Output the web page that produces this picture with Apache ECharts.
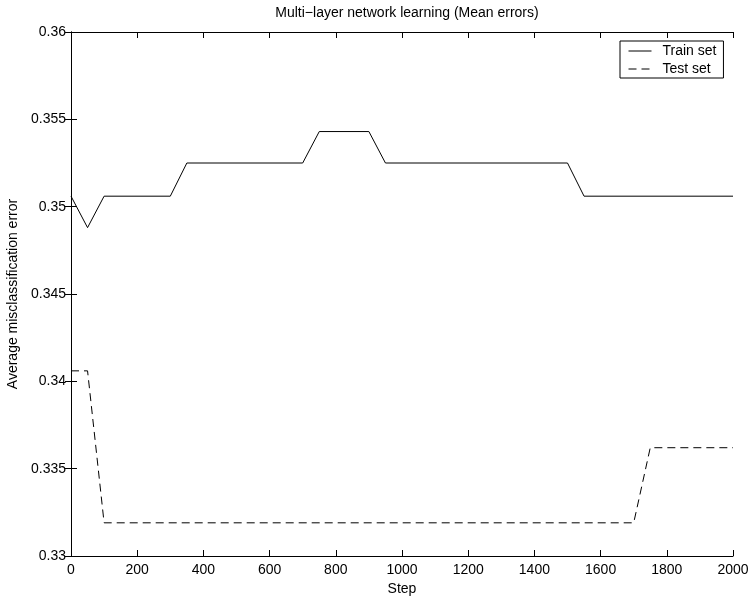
<!DOCTYPE html>
<html>
<head>
<meta charset="utf-8">
<script src="https://cdn.jsdelivr.net/npm/echarts@6/dist/echarts.min.js"></script>
<style>
  html, body { margin: 0; padding: 0; background: #fff; }
  #chart { width: 752px; height: 598px; }
</style>
</head>
<body>
<div id="chart"></div>
<script>
// breakpoints of the two curves (step, mean error)
const trainSteps = [0, 50, 100, 300, 350, 700, 750, 900, 950, 1500, 1550, 2000];
const trainErr = [0.3506, 0.3488, 0.3506, 0.3506, 0.3525, 0.3525, 0.3543, 0.3543, 0.3525, 0.3525, 0.3506, 0.3506];
const testSteps = [0, 50, 100, 1700, 1750, 2000];
const testErr = [0.3406, 0.3406, 0.3319, 0.3319, 0.3362, 0.3362];
const seriesNames = ['Train set', 'Test set'];

const font = "'Liberation Sans', Arial, Helvetica, sans-serif";

const pairs = (xs, ys) => xs.map((x, i) => [x, ys[i]]);

const tickStyle = { show: true, inside: true, length: 6, lineStyle: { color: '#000', width: 1 } };
const lineStyle = { show: true, lineStyle: { color: '#000', width: 1 } };
const labelStyle = { color: '#000', fontSize: 14, fontFamily: font };

const chart = echarts.init(document.getElementById('chart'));
chart.setOption({
  animation: false,
  backgroundColor: '#fff',
  title: {
    text: 'Multi\u2212layer network learning (Mean errors)',
    left: 402,
    textAlign: 'center',
    top: 1,
    textStyle: { color: '#000', fontSize: 14, fontWeight: 'normal', fontFamily: font }
  },
  legend: {
    data: seriesNames,
    orient: 'vertical',
    left: 620,
    top: 41,
    padding: [3, 7, 2, 8],
    itemWidth: 23,
    itemHeight: 14,
    itemGap: 4,
    borderColor: '#000',
    borderWidth: 1,
    backgroundColor: '#fff',
    itemStyle: { opacity: 0 },
    lineStyle: { width: 1 },
    textStyle: { color: '#000', fontSize: 14, fontFamily: font, padding: [0, 0, 0, 6] }
  },
  grid: { left: 71, right: 19, top: 32, bottom: 42, outerBoundsMode: 'none' },
  xAxis: [
    {
      type: 'value', min: 0, max: 2000, interval: 200,
      name: 'Step', nameLocation: 'middle', nameGap: 24,
      nameTextStyle: labelStyle,
      axisLine: lineStyle, axisTick: tickStyle,
      axisLabel: Object.assign({ margin: 7, formatter: v => String(v) }, labelStyle),
      splitLine: { show: false }
    },
    {
      type: 'value', min: 0, max: 2000, interval: 200, position: 'top',
      axisLine: lineStyle, axisTick: tickStyle,
      axisLabel: { show: false }, splitLine: { show: false }
    }
  ],
  yAxis: [
    {
      type: 'value', min: 0.33, max: 0.36, interval: 0.005,
      name: 'Average misclassification error', nameLocation: 'middle', nameGap: 35,
      nameTextStyle: labelStyle,
      axisLine: lineStyle, axisTick: tickStyle,
      axisLabel: Object.assign({ margin: 5, formatter: v => String(+v.toFixed(3)) }, labelStyle),
      splitLine: { show: false }
    },
    {
      type: 'value', min: 0.33, max: 0.36, interval: 0.005, position: 'right',
      axisLine: lineStyle, axisTick: tickStyle,
      axisLabel: { show: false }, splitLine: { show: false }
    }
  ],
  series: [
    {
      name: seriesNames[0], type: 'line', symbol: 'none',
      xAxisIndex: 0, yAxisIndex: 0,
      data: pairs(trainSteps, trainErr),
      lineStyle: { color: '#000', width: 1 },
      itemStyle: { color: '#000' }
    },
    {
      name: seriesNames[1], type: 'line', symbol: 'none',
      xAxisIndex: 0, yAxisIndex: 0,
      data: pairs(testSteps, testErr),
      lineStyle: { color: '#000', width: 1, type: [8, 5] },
      itemStyle: { color: '#000' }
    }
  ]
});
</script>
</body>
</html>
